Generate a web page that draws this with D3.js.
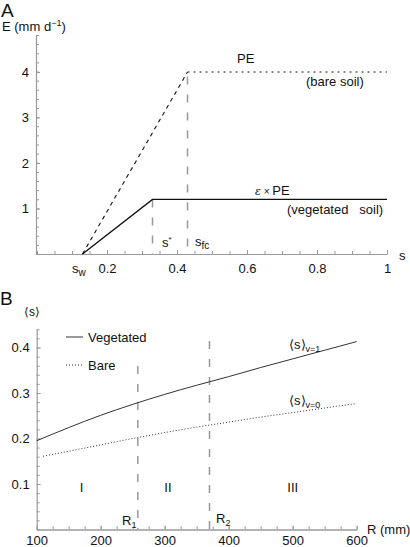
<!DOCTYPE html>
<html><head><meta charset="utf-8">
<script src="https://cdn.jsdelivr.net/npm/d3@7"></script>
<style>
body{margin:0;background:#fff;}
svg text{font-family:"Liberation Sans",Arial,Helvetica,sans-serif;fill:#111;}
</style></head><body>
<svg id="c" width="410" height="547"></svg>
<script>
// ---- Panel A data ----
const sW = 0.13, sStar = 0.33, sFc = 0.43;
const vegS = [sW, sStar, 1];
const vegE = [0, 1.2, 1.2];
const bareRiseS = [sW, sFc];
const bareRiseE = [0, 4];
const bareFlatS = [sFc, 1];
const bareFlatE = [4, 4];
const aXTicks = [0.2, 0.4, 0.6, 0.8, 1];
const aYTicks = [1, 2, 3, 4];

// ---- Panel B data ----
const rVeg = [100, 150, 200, 250, 300, 350, 400, 450, 500, 550, 600];
const sVeg = [0.195, 0.224, 0.251, 0.275, 0.297, 0.317, 0.336, 0.356, 0.375, 0.394, 0.413];
const rBare = [110, 150, 200, 250, 300, 350, 400, 450, 500, 550, 600];
const sBare = [0.161, 0.172, 0.186, 0.200, 0.213, 0.225, 0.236, 0.247, 0.257, 0.267, 0.277];
const R1 = 258, R2 = 370;
const bXTicks = [100, 200, 300, 400, 500, 600];
const bYTicks = [0.1, 0.2, 0.3, 0.4];
const regions = [{lab:"I", r:170}, {lab:"II", r:305}, {lab:"III", r:500}];

const svg = d3.select("#c");
const axisCol = "#9a9a9a";

function styleAxis(g){
  g.select(".domain").attr("stroke", axisCol).attr("stroke-width", 1.2);
  g.selectAll(".tick line").attr("stroke", axisCol);
  g.selectAll(".tick text").attr("fill", "#111").style("font-size", "13px")
    .style("font-family", '"Liberation Sans",Arial,sans-serif');
}

// ================= Panel A =================
const xA = d3.scaleLinear().domain([0, 1]).range([37, 387]);
const yA = d3.scaleLinear().domain([0, 4]).range([254, 72]);

const gA = svg.append("g");
// minor ticks
gA.append("g").attr("transform", "translate(0,254)")
  .call(d3.axisBottom(xA).tickValues(d3.range(0, 1.0001, 0.05)).tickSize(-3).tickSizeOuter(0).tickFormat(""))
  .call(styleAxis);
gA.append("g").attr("transform", "translate(0,254)")
  .call(d3.axisBottom(xA).tickValues(aXTicks).tickSize(-4).tickSizeOuter(0).tickPadding(10).tickFormat(d => d === 1 ? "1" : d3.format(".1f")(d)))
  .call(styleAxis);
gA.append("g").attr("transform", "translate(36,0)")
  .call(d3.axisLeft(yA.copy().domain([0, 4.8]).range([254, 35])).tickValues(d3.range(0, 4.8001, 0.2)).tickSize(-3).tickSizeOuter(0).tickFormat(""))
  .call(styleAxis);
gA.append("g").attr("transform", "translate(36,0)")
  .call(d3.axisLeft(yA).tickValues(aYTicks).tickSize(-4).tickSizeOuter(0).tickPadding(7).tickFormat(d3.format("d")))
  .call(g => g.select(".domain").remove())
  .call(styleAxis);

const lineA = d3.line().x(d => xA(d[0])).y(d => yA(d[1]));
// vertical gray dashes
gA.append("line").attr("x1", xA(sStar)).attr("x2", xA(sStar)).attr("y1", yA(1.2)).attr("y2", yA(0))
  .attr("stroke", "#999").attr("stroke-width", 1.5).attr("stroke-dasharray", "8,10");
gA.append("line").attr("x1", xA(sFc)).attr("x2", xA(sFc)).attr("y1", yA(3.9)).attr("y2", yA(0))
  .attr("stroke", "#999").attr("stroke-width", 1.5).attr("stroke-dasharray", "8,10");
// bare soil
gA.append("path").attr("d", lineA(d3.zip(bareRiseS, bareRiseE))).attr("fill", "none")
  .attr("stroke", "#111").attr("stroke-width", 1.1).attr("stroke-dasharray", "4,4");
gA.append("path").attr("d", lineA(d3.zip(bareFlatS, bareFlatE))).attr("fill", "none")
  .attr("stroke", "#111").attr("stroke-width", 1).attr("stroke-dasharray", "2,4");
// vegetated
gA.append("path").attr("d", lineA(d3.zip(vegS, vegE))).attr("fill", "none")
  .attr("stroke", "#111").attr("stroke-width", 1.4);

// texts A
svg.append("text").attr("x", 1).attr("y", 17).style("font-size", "19px").text("A");
const eLab = svg.append("text").attr("x", 2).attr("y", 31).style("font-size", "13px");
eLab.append("tspan").text("E  (mm  d");
eLab.append("tspan").attr("dy", -5).style("font-size", "9px").text("−1");
eLab.append("tspan").attr("dy", 5).text(")");
svg.append("text").attr("x", 237).attr("y", 63).style("font-size", "13px").text("PE");
svg.append("text").attr("x", 306).attr("y", 86).style("font-size", "13px").text("(bare soil)");
const epe = svg.append("text").attr("x", 255).attr("y", 195).style("font-size", "13px");
epe.append("tspan").style("font-style", "italic").style("font-family", "DejaVu Serif,serif").style("font-size", "11px").text("ε");
epe.append("tspan").style("font-size", "10px").text(" × ");
epe.append("tspan").text("PE");
svg.append("text").attr("x", 287).attr("y", 214).style("font-size", "13px").attr("xml:space", "preserve").text("(vegetated   soil)");
const sst = svg.append("text").attr("x", 162).attr("y", 247).style("font-size", "13px");
sst.append("tspan").text("s");
sst.append("tspan").attr("dy", -5).style("font-size", "8px").text("*");
const sfc = svg.append("text").attr("x", 195).attr("y", 246).style("font-size", "13px");
sfc.append("tspan").text("s");
sfc.append("tspan").attr("dy", 3).style("font-size", "10px").text("fc");
const swl = svg.append("text").attr("x", 72).attr("y", 273).style("font-size", "13px");
swl.append("tspan").text("s");
swl.append("tspan").attr("dy", 3).style("font-size", "10px").text("w");
svg.append("text").attr("x", 399).attr("y", 260).style("font-size", "13px").text("s");

// ================= Panel B =================
const xB = d3.scaleLinear().domain([100, 600]).range([36.7, 356.7]);
const yB = d3.scaleLinear().domain([0, 0.4]).range([529.5, 347.5]);
const gB = svg.append("g");
gB.append("g").attr("transform", "translate(0,529.5)")
  .call(d3.axisBottom(xB).tickValues(d3.range(100, 600.1, 25)).tickSize(-3).tickSizeOuter(0).tickFormat(""))
  .call(styleAxis);
gB.append("g").attr("transform", "translate(0,529.5)")
  .call(d3.axisBottom(xB).tickValues(bXTicks).tickSize(-4).tickSizeOuter(0).tickPadding(6).tickFormat(d3.format("d")))
  .call(styleAxis);
gB.append("g").attr("transform", "translate(36.7,0)")
  .call(d3.axisLeft(yB.copy().domain([0, 0.44]).range([529.5, 329.3])).tickValues(d3.range(0, 0.4401, 0.02)).tickSize(-3).tickSizeOuter(0).tickFormat(""))
  .call(styleAxis);
gB.append("g").attr("transform", "translate(36.7,0)")
  .call(d3.axisLeft(yB).tickValues(bYTicks).tickSize(-4).tickSizeOuter(0).tickPadding(7).tickFormat(d3.format(".1f")))
  .call(g => g.select(".domain").remove())
  .call(styleAxis);

// R1, R2 dashed verticals
gB.append("line").attr("x1", xB(R1)).attr("x2", xB(R1)).attr("y1", 366).attr("y2", yB(0))
  .attr("stroke", "#999").attr("stroke-width", 1.5).attr("stroke-dasharray", "8,10");
gB.append("line").attr("x1", xB(R2)).attr("x2", xB(R2)).attr("y1", 341).attr("y2", yB(0))
  .attr("stroke", "#999").attr("stroke-width", 1.5).attr("stroke-dasharray", "8,10");

const lineB = d3.line().x(d => xB(d[0])).y(d => yB(d[1])).curve(d3.curveMonotoneX);
gB.append("path").attr("d", lineB(d3.zip(rVeg, sVeg))).attr("fill", "none")
  .attr("stroke", "#333").attr("stroke-width", 1);
gB.append("path").attr("d", lineB(d3.zip(rBare, sBare))).attr("fill", "none")
  .attr("stroke", "#333").attr("stroke-width", 1).attr("stroke-dasharray", "1,2");

// legend
gB.append("line").attr("x1", 66).attr("x2", 83).attr("y1", 337).attr("y2", 337).attr("stroke", "#333").attr("stroke-width", 1);
gB.append("line").attr("x1", 66).attr("x2", 83).attr("y1", 365).attr("y2", 365).attr("stroke", "#333").attr("stroke-width", 1).attr("stroke-dasharray", "1,2");
svg.append("text").attr("x", 88).attr("y", 342).style("font-size", "13px").text("Vegetated");
svg.append("text").attr("x", 88).attr("y", 370).style("font-size", "13px").text("Bare");

// texts B
svg.append("text").attr("x", 0).attr("y", 305).style("font-size", "19px").text("B");
svg.append("text").attr("x", 24).attr("y", 316).style("font-size", "12px").text("⟨s⟩");
regions.forEach(r => {
  svg.append("text").attr("x", xB(r.r)).attr("y", 492).attr("text-anchor", "middle").style("font-size", "13px").text(r.lab);
});
const r1 = svg.append("text").attr("x", 122).attr("y", 525).style("font-size", "13px");
r1.append("tspan").text("R");
r1.append("tspan").attr("dy", 3).style("font-size", "9px").text("1");
const r2 = svg.append("text").attr("x", 216).attr("y", 523).style("font-size", "13px");
r2.append("tspan").text("R");
r2.append("tspan").attr("dy", 3).style("font-size", "9px").text("2");
svg.append("text").attr("x", 367).attr("y", 534).style("font-size", "13px").text("R (mm)");
const v1 = svg.append("text").attr("x", 289).attr("y", 349).style("font-size", "13px");
v1.append("tspan").text("⟨s⟩");
v1.append("tspan").attr("dy", 3).style("font-size", "9px").text("v=1");
const v0 = svg.append("text").attr("x", 289).attr("y", 405).style("font-size", "13px");
v0.append("tspan").text("⟨s⟩");
v0.append("tspan").attr("dy", 3).style("font-size", "9px").text("v=0");
</script>
</body></html>
